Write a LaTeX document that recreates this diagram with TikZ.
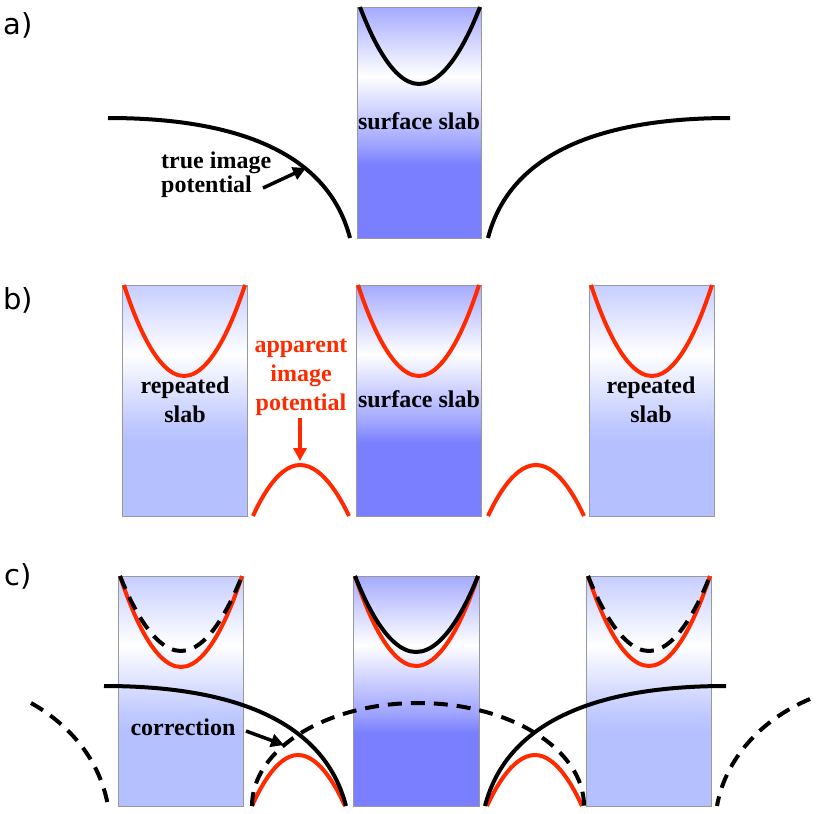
\documentclass[tikz,border=0pt]{standalone}
\usepackage{fontspec}
\setmainfont{Liberation Serif}
\newfontfamily\panelfont{DejaVu Sans}
\usetikzlibrary{arrows.meta}

\definecolor{potred}{HTML}{FF2A00}
\definecolor{surftop}{RGB}{165,170,255}
\definecolor{surfmid}{RGB}{158,163,255}
\definecolor{surfbot}{RGB}{122,127,255}
\definecolor{reptop}{RGB}{198,206,255}
\definecolor{repmid}{RGB}{192,201,255}
\definecolor{repbot}{RGB}{180,192,255}

% slab fillings: white band about a third from the top
\pgfdeclareverticalshading{surfshade}{100bp}{color(0bp)=(surfbot); color(25bp)=(surfbot);
  color(41bp)=(surfbot); color(45bp)=(surfmid); color(60bp)=(white); color(75bp)=(surftop); color(100bp)=(surftop)}
\pgfdeclareverticalshading{repshade}{100bp}{color(0bp)=(repbot); color(25bp)=(repbot);
  color(41bp)=(repbot); color(45bp)=(repmid); color(60bp)=(white); color(75bp)=(reptop); color(100bp)=(reptop)}

\begin{document}
\begin{tikzpicture}[x=1pt,y=-1pt,
    slab/.style={draw=gray!80, line width=0.8pt},
    potline/.style={line width=4pt},
    dashline/.style={line width=4pt, dash pattern=on 14pt off 9pt},
    slabtext/.style={font=\fontsize{24}{29}\selectfont\bfseries, anchor=base, inner sep=0pt},
    panellabel/.style={font=\panelfont\fontsize{29}{32}\selectfont},
    ptr/.style={line width=3.5pt, -{Triangle[length=13pt,width=13pt]}}]

    \useasboundingbox (0,0) rectangle (823,814);

    % a) true image potential
    \draw[slab, shading=surfshade] (357,7) rectangle (481,238);
    \draw[potline] (360,7) parabola bend (419,84) (480,7);
    \draw[potline] (108,118) .. controls (250,118) and (330,160) .. (350,238);
    \draw[potline] (488,238) .. controls (508,160) and (588,118) .. (730,118);

    % b) repeated slabs
    \draw[slab, shading=repshade] (122,285) rectangle (247,516);
    \draw[slab, shading=surfshade] (356,285) rectangle (481,516);
    \draw[slab, shading=repshade] (589,285) rectangle (714,516);
    \draw[potline, potred] (124,285) parabola bend (184,376) (245,285);
    \draw[potline, potred] (358,285) parabola bend (419,376) (479,285);
    \draw[potline, potred] (591,285) parabola bend (652,376) (712,285);
    \draw[potline, potred] (253,516) parabola bend (300,465) (349,516);
    \draw[potline, potred] (488,516) parabola bend (536,465) (584,516);

    % c) correction
    \draw[slab, shading=repshade] (118,576) rectangle (243,806);
    \draw[slab, shading=surfshade] (353,576) rectangle (479,806);
    \draw[slab, shading=repshade] (586,576) rectangle (711,806);
    \draw[potline, potred] (120,576) parabola bend (181,667) (242,576);
    \draw[dashline] (120,576) parabola bend (181,651) (242,576);
    \draw[potline, potred] (355,576) parabola bend (416,666) (478,576);
    \draw[potline] (355,576) parabola bend (416,652) (478,576);
    \draw[potline, potred] (588,576) parabola bend (649,666) (710,576);
    \draw[dashline] (588,576) parabola bend (649,651) (710,576);
    \draw[potline, potred] (252,806) parabola bend (298,755) (345,806);
    \draw[potline, potred] (487,806) parabola bend (535,755) (582,806);
    \draw[potline] (104,686) .. controls (246,686) and (326,728) .. (346,806);
    \draw[potline] (485,806) .. controls (505,728) and (585,686) .. (726,686);
    \draw[dashline] (252,806) arc[start angle=180, end angle=360, x radius=166, y radius=103];
    \draw[dashline] (31,703) .. controls (70,725) and (100,760) .. (108,806);
    \draw[dashline] (810,699) .. controls (760,720) and (725,760) .. (717,806);

    % labels
    \node[panellabel] (laba) at (18,25) {a)};
    \node[panellabel] (labb) at (18,300) {b)};
    \node[panellabel] (labc) at (18,576) {c)};

    \node[slabtext] (surfa) at (419,129) {surface slab};
    \node[slabtext, anchor=base west, font=\fontsize{24}{24}\selectfont\bfseries] (truepot) at (161,168)
        {\begin{tabular}[t]{@{}l@{}}true image\\potential\end{tabular}};
    \node[slabtext] (repl) at (185,393) {\begin{tabular}[t]{@{}c@{}}repeated\\slab\end{tabular}};
    \node[slabtext] (surfb) at (419,407) {surface slab};
    \node[slabtext] (repr) at (651,393) {\begin{tabular}[t]{@{}c@{}}repeated\\slab\end{tabular}};
    \node[slabtext, text=potred] (apppot) at (301,352)
        {\begin{tabular}[t]{@{}c@{}}apparent\\image\\potential\end{tabular}};
    \node[slabtext] (corr) at (183,735) {correction};

    % arrows
    \coordinate (truetail) at (263,188);
    \coordinate (truehead) at (306,168);
    \coordinate (apptail) at (300,418);
    \coordinate (apphead) at (300,461);
    \coordinate (corrtail) at (246,731);
    \coordinate (corrhead) at (284,745);
    \draw[ptr] (truetail) -- (truehead);
    \draw[ptr, potred] (apptail) -- (apphead);
    \draw[ptr] (corrtail) -- (corrhead);
\end{tikzpicture}
\end{document}
